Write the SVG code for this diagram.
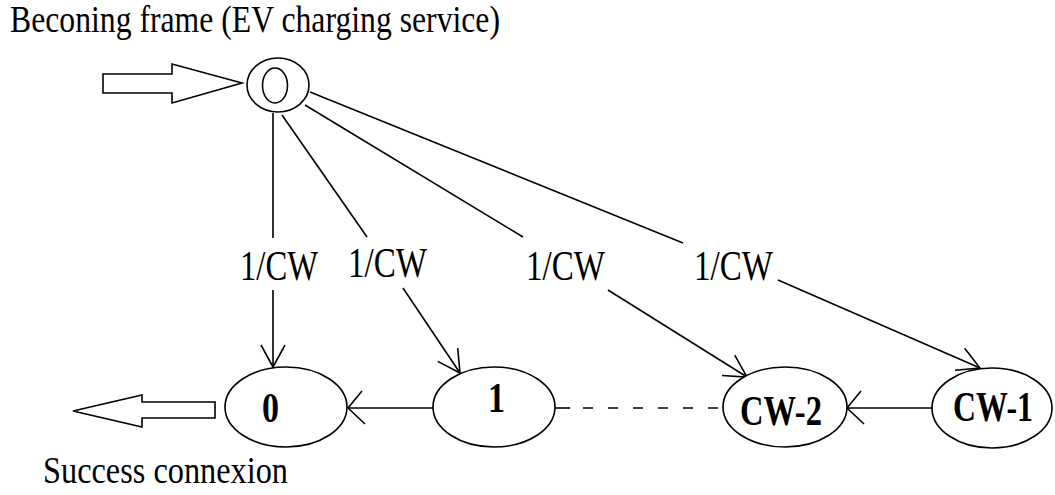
<svg xmlns="http://www.w3.org/2000/svg" width="1055" height="495" viewBox="0 0 1055 495">
<style>
.ln{fill:none;stroke:#000;stroke-width:1.6}
.node{fill:#fff;stroke:#000;stroke-width:1.6}
.lbl{font-family:"Liberation Serif","Times New Roman",serif;font-size:42px;fill:#000}
.nt{font-family:"Liberation Serif","Times New Roman",serif;font-size:42px;font-weight:bold;fill:#000}
.cap{font-family:"Liberation Serif","Times New Roman",serif;font-size:37px;fill:#000}
</style>
<defs>
<marker id="ah" markerUnits="userSpaceOnUse" markerWidth="30" markerHeight="30" viewBox="-25 -15 30 30" refX="0" refY="0" orient="auto" overflow="visible">
<path d="M-22,-12 L0,0 L-22,12" fill="none" stroke="#000" stroke-width="1.6"/>
</marker>
<marker id="ahw" markerUnits="userSpaceOnUse" markerWidth="30" markerHeight="40" viewBox="-25 -20 30 40" refX="0" refY="0" orient="auto" overflow="visible">
<path d="M-17,-16 L0,0 L-14,17" fill="none" stroke="#000" stroke-width="1.6"/>
</marker>
</defs>
<rect width="1055" height="495" fill="#fff"/>
<text class="cap" x="10" y="32" textLength="490" lengthAdjust="spacingAndGlyphs">Beconing frame (EV charging service)</text>
<text class="cap" x="43" y="483" textLength="245" lengthAdjust="spacingAndGlyphs">Success connexion</text>
<g id="connectors">
<polygon class="ln" points="103,74 172,74 172,64 242,83 172,103 172,93 103,93"/>
<polygon class="ln" points="215,402 142,402 142,395 73,411 142,427 142,418 215,418"/>
<path class="ln" d="M273,113 L273,238 M273,290 L273,367" marker-end="url(#ah)"/>
<path class="ln" d="M282,115 L367,237 M403,288 L460,373" marker-end="url(#ah)"/>
<path class="ln" d="M305,105 L523,237 M608,290 L747,377" marker-end="url(#ah)"/>
<path class="ln" d="M310,92 L683,243 M778,280 L980,368" marker-end="url(#ah)"/>
<path class="ln" d="M433,408 L348,408" marker-end="url(#ahw)"/>
<path class="ln" d="M932,408 L847,408" marker-end="url(#ahw)"/>
<path class="ln" d="M555,408 L570,408"/>
<path class="ln" d="M583,408 L722,408" stroke-dasharray="10,15"/>
<text class="lbl" x="240" y="280" textLength="78" lengthAdjust="spacingAndGlyphs">1/CW</text>
<text class="lbl" x="348" y="277" textLength="79" lengthAdjust="spacingAndGlyphs">1/CW</text>
<text class="lbl" x="526" y="280" textLength="79" lengthAdjust="spacingAndGlyphs">1/CW</text>
<text class="lbl" x="694" y="280" textLength="79" lengthAdjust="spacingAndGlyphs">1/CW</text>
</g>
<g id="node-start">
<ellipse class="node" cx="278" cy="85" rx="31" ry="27"/>
<ellipse class="ln" cx="275" cy="85.5" rx="12.5" ry="17.5"/>
</g>
<g id="node-0">
<ellipse class="node" cx="286" cy="407" rx="61" ry="40"/>
<text class="nt" x="262" y="422" textLength="17" lengthAdjust="spacingAndGlyphs">0</text>
</g>
<g id="node-1">
<ellipse class="node" cx="494" cy="407" rx="61" ry="40"/>
<text class="nt" x="488" y="412" textLength="17" lengthAdjust="spacingAndGlyphs">1</text>
</g>
<g id="node-cw2">
<ellipse class="node" cx="785" cy="407" rx="62" ry="40"/>
<text class="nt" x="740" y="425" textLength="82" lengthAdjust="spacingAndGlyphs">CW-2</text>
</g>
<g id="node-cw1">
<ellipse class="node" cx="992" cy="408" rx="60" ry="40"/>
<text class="nt" x="953" y="421" textLength="80" lengthAdjust="spacingAndGlyphs">CW-1</text>
</g>
</svg>
